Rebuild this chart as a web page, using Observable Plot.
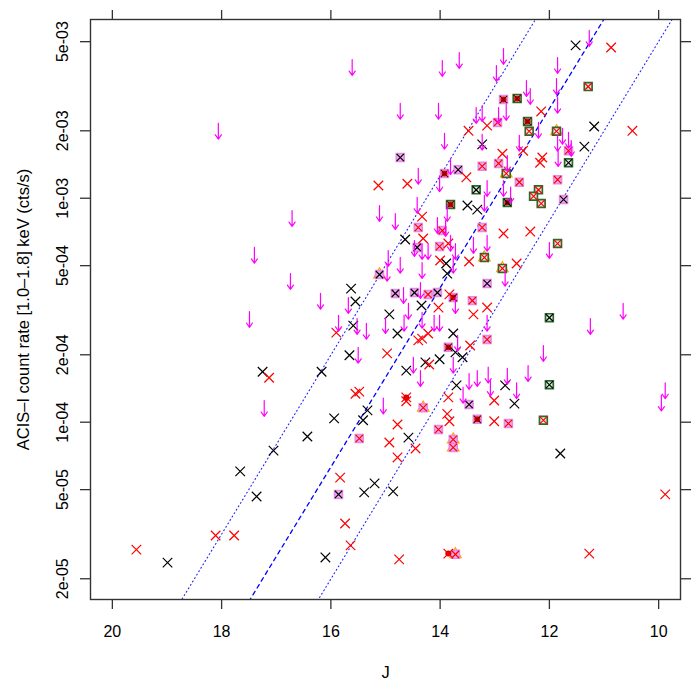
<!DOCTYPE html>
<html><head><meta charset="utf-8">
<script src="https://cdn.jsdelivr.net/npm/d3@7"></script>
<script src="https://cdn.jsdelivr.net/npm/@observablehq/plot@0.6"></script>
<style>body{margin:0;background:#fff;}</style>
</head><body><div id="chart"></div>
<script>
// ---- axis ticks / labels ----
const xTicks = [20, 18, 16, 14, 12, 10];
const yTicks = [2e-5, 5e-5, 1e-4, 2e-4, 5e-4, 1e-3, 2e-3, 5e-3];
const yTickLabels = ["2e-05", "5e-05", "1e-04", "2e-04", "5e-04", "1e-03", "2e-03", "5e-03"];
const xTitle = "J";
const yTitle = "ACIS\u2013I count rate [1.0\u20131.8] keV (cts/s)";

// ---- model lines: log10(rate) = intercept + slope * J ----
const modelSlope = -0.4;
const modelIntercepts = [2.7, 2.2, 1.7];

// ---- detections: [J, rate] ----
const blackX = [
[11.52,4.81e-3],[11.18,2.09e-3],[11.36,1.70e-3],[13.23,1.74e-3],[13.50,9.28e-4],[13.32,8.9e-4],[14.64,6.54e-4],[13.89,5.11e-4],[13.87,4.61e-4],[15.63,3.95e-4],[15.55,3.46e-4],[14.34,3.32e-4],[14.93,3.03e-4],[15.59,2.70e-4],[14.78,2.49e-4],[13.76,2.49e-4],[15.66,1.99e-4],[14.62,1.70e-4],[14.27,1.85e-4],[14.01,1.91e-4],[13.72,2.05e-4],[13.59,1.95e-4],[13.70,1.46e-4],[12.81,1.46e-4],[12.64,1.21e-4],[15.33,1.13e-4],[15.41,1.02e-4],[14.58,8.54e-5],[11.80,7.25e-5],[15.39,4.86e-5],[15.20,5.33e-5],[14.86,4.91e-5],[17.25,1.68e-4],[16.17,1.68e-4],[15.94,1.04e-4],[16.43,8.63e-5],[17.05,7.47e-5],[17.66,6.03e-5],[17.36,4.66e-5],[18.99,2.36e-5],[16.10,2.49e-5]
];
const redX = [
[10.87,4.71e-3],[10.48,2.0e-3],[12.15,2.44e-3],[13.48,2.0e-3],[13.14,2.11e-3],[12.86,1.58e-3],[12.48,1.63e-3],[12.13,1.52e-3],[12.17,1.44e-3],[15.13,1.14e-3],[14.60,1.16e-3],[13.52,1.24e-3],[14.33,8.28e-4],[12.84,6.96e-4],[12.35,7.10e-4],[14.31,6.61e-4],[13.85,6.28e-4],[13.47,5.22e-4],[12.60,5.11e-4],[14.00,5.27e-4],[13.83,3.72e-4],[14.03,3.25e-4],[13.39,3.03e-4],[13.14,3.25e-4],[15.90,2.51e-4],[14.40,2.32e-4],[14.33,2.36e-4],[14.22,2.49e-4],[13.45,2.2e-4],[14.97,2.03e-4],[14.20,1.81e-4],[15.55,1.34e-4],[15.48,1.37e-4],[14.62,1.24e-4],[13.85,1.29e-4],[13.01,1.25e-4],[13.01,1.01e-4],[13.87,1.09e-4],[13.83,1.01e-4],[14.78,9.77e-5],[14.93,8.12e-5],[14.45,7.63e-5],[14.78,6.96e-5],[9.88,4.76e-5],[15.64,2.82e-5],[14.75,2.44e-5],[11.27,2.59e-5],[17.13,1.58e-4],[15.83,5.66e-5],[15.74,3.53e-5],[19.56,2.70e-5],[18.11,3.12e-5],[17.77,3.12e-5]
];
const redDotX = [[14.62,1.29e-4],[13.85,2.59e-5]];
// boxed sources: [J, rate, cross colour (k/r), extra (""/"dot"/"tri")]
const pinkBoxes = [
[14.73,1.52e-3,"k",""],[13.67,1.34e-3,"k",""],[11.74,9.87e-4,"k",""],[14.42,6.03e-4,"k",""],[13.14,4.16e-4,"k",""],[14.82,3.76e-4,"k",""],[14.47,3.79e-4,"k",""],[14.05,3.79e-4,"k",""],[13.47,1.2e-4,"k",""],[15.86,4.76e-5,"k",""],[15.11,4.56e-4,"k","tri"],
[13.23,1.39e-3,"r",""],[12.95,2.18e-3,"r",""],[12.93,1.43e-3,"r",""],[12.55,1.18e-3,"r",""],[11.85,1.21e-3,"r",""],[11.65,1.63e-3,"r",""],[14.40,7.40e-4,"r",""],[13.96,7.17e-4,"r",""],[13.23,7.40e-4,"r",""],[14.01,6.09e-4,"r",""],[14.22,3.72e-4,"r",""],[13.41,3.49e-4,"r",""],[13.14,2.34e-4,"r",""],[12.75,9.87e-5,"r",""],[14.03,9.28e-5,"r",""],[15.48,8.46e-5,"r",""],
[14.31,1.16e-4,"r","tri"],[13.76,8.37e-5,"r","tri"],[13.76,7.71e-5,"r","tri"],[13.72,2.57e-5,"r","tri"],
[12.84,2.76e-3,"r","dot"],[13.92,1.29e-3,"r","dot"],[13.76,3.6e-4,"r","dot"],[13.85,2.16e-4,"r","dot"],[13.32,1.03e-4,"r","dot"]
];
const greenBoxes = [
[11.29,3.15e-3,"r",""],[12.37,1.99e-3,"r",""],[12.20,1.09e-3,"r",""],[12.29,1.02e-3,"r",""],[12.15,9.47e-4,"r",""],[11.85,6.28e-4,"r",""],[12.11,1.02e-4,"r",""],
[11.65,1.44e-3,"k",""],[13.34,1.09e-3,"k",""],[12.00,2.93e-4,"k",""],[12.00,1.47e-4,"k",""],
[12.59,2.79e-3,"r","dot"],[12.40,2.2e-3,"r","dot"],[13.81,9.37e-4,"r","dot"],[12.77,9.57e-4,"k","dot"],
[11.87,1.99e-3,"r","tri"],[12.79,1.29e-3,"r","tri"],[13.19,5.44e-4,"r","tri"],[12.86,4.86e-4,"r","tri"]
];
// ---- upper limits: [J, rate limit] ----
const upperLimits = [
[18.06,2.16e-3],[16.71,8.81e-4],[17.40,6.03e-4],[16.74,4.61e-4],[16.19,3.76e-4],[17.49,3.12e-4],[15.86,3.0e-4],[15.68,3.6e-4],[17.22,1.25e-4],
[15.61,4.16e-3],[13.96,4.12e-3],[13.65,4.47e-3],[14.73,2.65e-3],[14.03,2.65e-3],[13.34,2.54e-3],[13.23,2.59e-3],[12.93,2.54e-3],[12.79,2.62e-3],[13.92,1.95e-3],[13.23,1.93e-3],[13.81,1.5e-3],
[12.84,4.66e-3],[12.97,3.91e-3],[11.85,4.25e-3],[11.87,3.42e-3],[11.27,5.61e-3],[12.42,3.35e-3],[12.35,3.09e-3],[11.85,2.82e-3],
[12.55,1.91e-3],[12.20,2.18e-3],[11.85,1.91e-3],[11.76,2.05e-3],[11.65,1.97e-3],[11.60,1.81e-3],[11.84,1.63e-3],[12.77,1.55e-3],
[14.40,1.36e-3],[14.01,1.26e-3],[13.14,1.2e-3],[12.84,1.2e-3],[12.71,1.12e-3],[13.19,1.03e-3],[15.11,9.28e-4],[14.82,8.54e-4],[14.42,1.01e-3],[13.87,9.28e-4],
[14.05,8.2e-4],[13.90,7.95e-4],[13.39,6.68e-4],[13.14,6.82e-4],[14.47,6.47e-4],[14.33,6.28e-4],[14.22,6.28e-4],[13.81,6.82e-4],[13.72,6.28e-4],[12.00,6.34e-4],
[14.95,5.84e-4],[14.73,5.44e-4],[14.33,5.16e-4],[13.76,5.44e-4],[14.97,5.01e-4],[12.81,4.76e-4],
[14.67,3.99e-4],[14.36,4.2e-4],[14.58,3.39e-4],[13.72,3.6e-4],[15.52,2.9e-4],[15.35,2.76e-4],[15.00,2.93e-4],[14.66,3.0e-4],[14.33,3.09e-4],[14.11,3.0e-4],[14.01,3.0e-4],[13.14,3.0e-4],[13.68,2.44e-4],[15.50,2.16e-4],[11.25,2.9e-4],[10.65,3.39e-4],
[14.49,1.95e-4],[14.36,1.70e-4],[13.76,1.95e-4],[13.47,1.65e-4],[13.32,1.70e-4],[13.12,1.76e-4],[13.08,1.54e-4],[12.77,1.74e-4],[12.60,1.5e-4],[12.39,1.79e-4],[13.58,1.43e-4],[15.04,1.28e-4],[12.11,2.2e-4],[9.88,1.5e-4],[9.95,1.32e-4]
];

// ---- build ----
const xDomain = [20.4, 9.6];
const yDomain = [1.616e-5, 6.28e-3];
const arrowDrop = 0.85;
const FONT = '"Liberation Sans", Arial, Helvetica, sans-serif';
const modelLines = modelIntercepts.flatMap((c, i) =>
  xDomain.map(J => ({J, rate: Math.pow(10, c + modelSlope * J), id: i})));
const boxes = [...pinkBoxes.map(d => ({d, kind: "pink"})), ...greenBoxes.map(d => ({d, kind: "green"}))];
const crossCol = b => b.d[3] === "dot" ? (b.d[2] === "k" ? "#000000" : "#700000") : (b.d[2] === "k" ? "#000000" : "#ff0000");
const AXC = "#333";

const chart = Plot.plot({
  width: 700, height: 700,
  marginLeft: 90, marginRight: 20, marginTop: 19, marginBottom: 101,
  style: {fontFamily: FONT, fontSize: "16px", color: "black", background: "white"},
  x: {domain: xDomain},
  y: {type: "log", domain: yDomain},
  marks: [
    Plot.line(modelLines.filter(d => d.id !== 1), {x: "J", y: "rate", z: "id", stroke: "#2222ff", strokeWidth: 1.1, strokeDasharray: "1,3", clip: true}),
    Plot.line(modelLines.filter(d => d.id === 1), {x: "J", y: "rate", stroke: "#0000ff", strokeWidth: 1.3, strokeDasharray: "4,4", clip: true}),
    Plot.dot(boxes.filter(b => b.d[3] === "tri"), {x: b => b.d[0], y: b => b.d[1], symbol: "triangle", r: 4.3, stroke: "#ffa500", strokeWidth: 1.2, fill: "none"}),
    Plot.dot(boxes, {x: b => b.d[0], y: b => b.d[1], symbol: "square", r: 4.4,
      fill: b => b.kind === "pink" ? "#f0b0f0" : "#e4efe4",
      stroke: b => b.kind === "pink" ? "#e58ae5" : "#2c6a2c", strokeWidth: 1.7}),
    Plot.dot(boxes.filter(b => b.d[3] === "dot"), {x: b => b.d[0], y: b => b.d[1], r: 3, fill: "#ee0000"}),
    Plot.dot(boxes, {x: b => b.d[0], y: b => b.d[1], symbol: "times", r: 3.4, stroke: crossCol, strokeWidth: 1.2}),
    Plot.dot(redDotX, {x: d => d[0], y: d => d[1], r: 3, fill: "#cc0000"}),
    Plot.dot(redDotX, {x: d => d[0], y: d => d[1], symbol: "times", r: 4.4, stroke: "#ff0000", strokeWidth: 1.2}),
    Plot.dot(blackX, {x: d => d[0], y: d => d[1], symbol: "times", r: 4.4, stroke: "#000000", strokeWidth: 1.2}),
    Plot.dot(redX, {x: d => d[0], y: d => d[1], symbol: "times", r: 4.4, stroke: "#ff0000", strokeWidth: 1.2}),
    Plot.arrow(upperLimits, {x: d => d[0], y1: d => d[1], y2: d => d[1] * arrowDrop,
      stroke: "#ff00ff", strokeWidth: 1.2, headAngle: 70, headLength: 8, insetStart: 0, insetEnd: 0}),
    Plot.frame({stroke: AXC, strokeWidth: 1.4}),
    Plot.axisX({ticks: xTicks, tickSize: 10, tickPadding: 16, tickFormat: d => String(d), label: null, fontSize: 16, stroke: AXC, strokeWidth: 1.3}),
    Plot.axisX({anchor: "top", ticks: xTicks, tickSize: 10, tickFormat: () => "", label: null, stroke: AXC, strokeWidth: 1.3}),
    Plot.axisY({ticks: yTicks, tickSize: 10, tickFormat: () => "", label: null, stroke: AXC, strokeWidth: 1.3}),
    Plot.axisY({anchor: "right", ticks: yTicks, tickSize: 10, tickFormat: () => "", label: null, stroke: AXC, strokeWidth: 1.3}),
    Plot.text(yTicks, {y: d => d, frameAnchor: "left", text: (d, i) => yTickLabels[i], rotate: -90,
      textAnchor: "middle", lineAnchor: "bottom", dx: -23, fontSize: 16, fill: "black"}),
    Plot.text([yTitle], {frameAnchor: "left", text: d => d, rotate: -90, textAnchor: "middle",
      lineAnchor: "bottom", dx: -62, fontSize: 16.5, fill: "black"}),
    Plot.text([xTitle], {frameAnchor: "bottom", text: d => d, lineAnchor: "bottom", dy: 78, fontSize: 16.5, fill: "black"})
  ]
});
document.getElementById("chart").appendChild(chart);
</script>
</body></html>
